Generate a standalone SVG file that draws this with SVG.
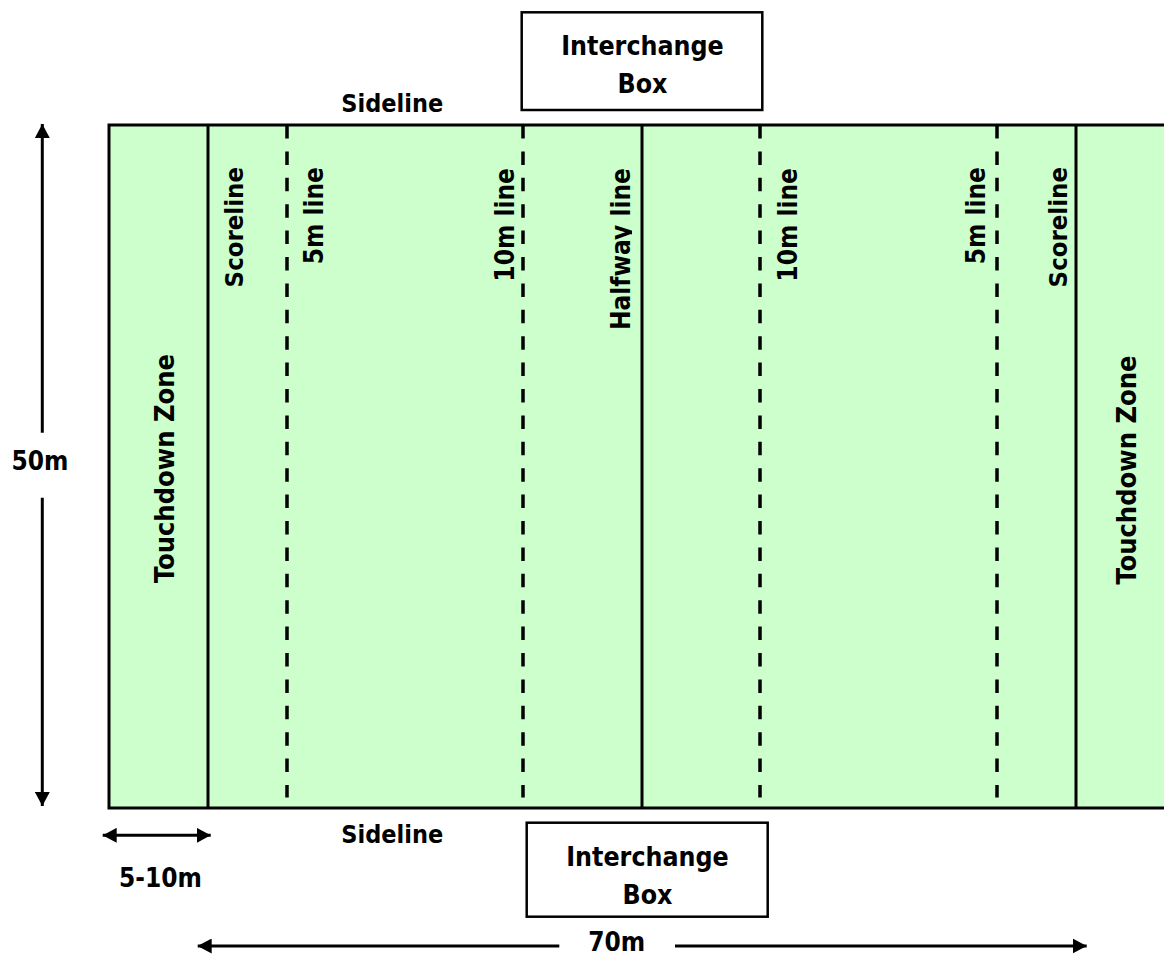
<svg xmlns="http://www.w3.org/2000/svg" width="1164" height="954" viewBox="0 0 1164 954">
<style>
text{font-family:"DejaVu Sans Condensed","DejaVu Sans","Liberation Sans",sans-serif;font-weight:bold;font-size:26px;fill:#000}
.mid{text-anchor:middle}
.end{text-anchor:end}
.field{fill:#CCFFCC;stroke:#000;stroke-width:3}
.solid{stroke:#000;stroke-width:3;fill:none}
.dash{stroke:#000;stroke-width:3.5;stroke-dasharray:13.5 12.9;fill:none}
.arrow{stroke:#000;stroke-width:3;fill:none}
.box{fill:#fff;stroke:#000;stroke-width:2.5}
</style>
<defs>
<marker id="ah" viewBox="0 0 14 15" refX="14" refY="7.5" markerWidth="14" markerHeight="15" markerUnits="userSpaceOnUse" orient="auto">
<path d="M0,0 L14,7.5 L0,15 Z" fill="#000"/>
</marker>
<clipPath id="hwclip"><rect x="600" y="150" width="32" height="200"/></clipPath>
</defs>
<rect width="1164" height="954" fill="#fff"/>
<g id="pitch">
<rect class="field" x="109" y="125" width="1100" height="683"/>
<line class="solid" x1="208" y1="125" x2="208" y2="808"/>
<line class="solid" x1="642" y1="125" x2="642" y2="808"/>
<line class="solid" x1="1076" y1="125" x2="1076" y2="808"/>
<line class="dash" x1="287" y1="125" x2="287" y2="797.5"/>
<line class="dash" x1="523" y1="125" x2="523" y2="797.5"/>
<line class="dash" x1="760" y1="125" x2="760" y2="797.5"/>
<line class="dash" x1="997" y1="125" x2="997" y2="797.5"/>
</g>
<g id="touchdown-left"><text class="mid" style="font-size:27px" transform="translate(174,468.5) rotate(-90)">Touchdown Zone</text></g>
<g id="touchdown-right"><text class="mid" style="font-size:27px" transform="translate(1135.5,470) rotate(-90)">Touchdown Zone</text></g>
<g id="scoreline-left"><text class="end" style="font-size:25.5px" transform="translate(242.7,167) rotate(-90)">Scoreline</text></g>
<g id="5m-left"><text class="end" transform="translate(322.5,167) rotate(-90)">5m line</text></g>
<g id="10m-left"><text class="end" transform="translate(514,168) rotate(-90)">10m line</text></g>
<g id="halfway"><g clip-path="url(#hwclip)"><text class="end" transform="translate(630,168) rotate(-90)">Halfway line</text></g></g>
<g id="10m-right"><text class="end" transform="translate(797,168) rotate(-90)">10m line</text></g>
<g id="5m-right"><text class="end" transform="translate(985,167) rotate(-90)">5m line</text></g>
<g id="scoreline-right"><text class="end" style="font-size:25.5px" transform="translate(1066.7,167) rotate(-90)">Scoreline</text></g>
<g id="sideline-top"><text class="mid" style="font-size:25px" x="392.3" y="111.7">Sideline</text></g>
<g id="sideline-bottom"><text class="mid" style="font-size:25px" x="392.3" y="843.3">Sideline</text></g>
<g id="interchange-top">
<rect class="box" x="521.7" y="12.3" width="240.6" height="97.7"/>
<text class="mid" style="font-size:26.5px" x="642.5" y="55">Interchange</text>
<text class="mid" style="font-size:26.5px" x="642.5" y="93.3">Box</text>
</g>
<g id="interchange-bottom">
<rect class="box" x="526.7" y="822.7" width="241" height="94"/>
<text class="mid" style="font-size:26.5px" x="647.5" y="865.7">Interchange</text>
<text class="mid" style="font-size:26.5px" x="647.5" y="904">Box</text>
</g>
<g id="label-50m"><text class="mid" x="40" y="470">50m</text></g>
<g id="label-5-10m"><text class="mid" x="160.5" y="886.7">5-10m</text></g>
<g id="label-70m"><text class="mid" x="616.7" y="951">70m</text></g>
<g id="connectors">
<line class="arrow" x1="42.3" y1="432.7" x2="42.3" y2="124" marker-end="url(#ah)"/>
<line class="arrow" x1="42.3" y1="497.7" x2="42.3" y2="806" marker-end="url(#ah)"/>
<line class="arrow" x1="156" y1="835.3" x2="102.7" y2="835.3" marker-end="url(#ah)"/>
<line class="arrow" x1="156" y1="835.3" x2="210.7" y2="835.3" marker-end="url(#ah)"/>
<line class="arrow" x1="559.3" y1="946" x2="197.7" y2="946" marker-end="url(#ah)"/>
<line class="arrow" x1="675" y1="946" x2="1086.7" y2="946" marker-end="url(#ah)"/>
</g>
</svg>
